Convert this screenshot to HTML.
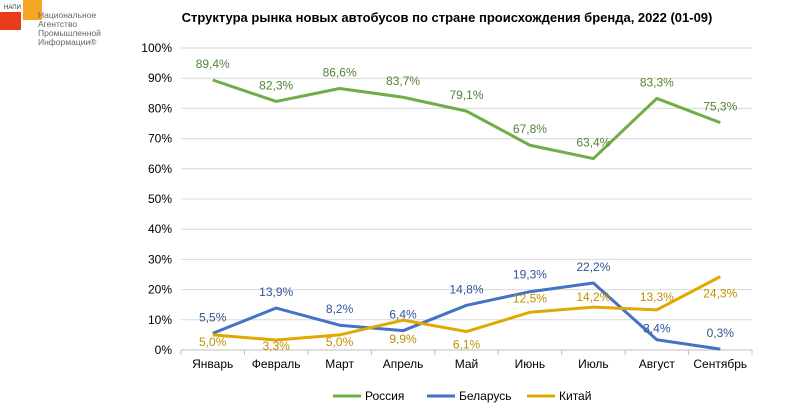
<!DOCTYPE html>
<html><head><meta charset="utf-8"><style>
body{margin:0;background:#fff;}
svg{display:block;font-family:"Liberation Sans",Arial,sans-serif;}
</style></head><body>
<svg width="800" height="408" viewBox="0 0 800 408">
<g>
<rect x="0" y="12" width="21" height="18" fill="#ea3b1c"/>
<rect x="23" y="0" width="19" height="20" fill="#f5a623"/>
<text x="4" y="9" font-size="6" fill="#333">НАПИ</text>
<text x="38" y="18" font-size="8.5" fill="#666">Национальное</text>
<text x="38" y="27" font-size="8.5" fill="#666">Агентство</text>
<text x="38" y="36" font-size="8.5" fill="#666">Промышленной</text>
<text x="38" y="45" font-size="8.5" fill="#666">Информации®</text>
</g>
<text x="447" y="22" font-size="13" font-weight="bold" text-anchor="middle" fill="#000">Структура рынка новых автобусов по стране происхождения бренда, 2022 (01-09)</text>
<g id="grid"></g><g id="series"></g><g id="legend"></g>
</svg>
<script>
const categories=["Январь","Февраль","Март","Апрель","Май","Июнь","Июль","Август","Сентябрь"];
const russia=[89.4,82.3,86.6,83.7,79.1,67.8,63.4,83.3,75.3];
const belarus=[5.5,13.9,8.2,6.4,14.8,19.3,22.2,3.4,0.3];
const china=[5.0,3.3,5.0,9.9,6.1,12.5,14.2,13.3,24.3];
const yTicks=[0,10,20,30,40,50,60,70,80,90,100];
const chinaLabelDy=[7,6,7,19,13,-14,-10,-13,17];
const belarusLabelDy=[-16,-16,-16,-16,-16,-17,-16,-11,-16];
const NS="http://www.w3.org/2000/svg";
const x0=181,x1=752,yb=350,yt=48;
const step=(x1-x0)/categories.length;
const xs=i=>x0+step*(i+0.5);
const ys=v=>yb-(yb-yt)*v/100;
function mk(t,a,p){const e=document.createElementNS(NS,t);for(const k in a)e.setAttribute(k,a[k]);p.appendChild(e);return e;}
const g=document.getElementById('grid');
yTicks.forEach(v=>{
 if(v>0){const l=mk('line',{x1:x0,x2:x1,y1:ys(v),y2:ys(v),stroke:'#d9d9d9','stroke-width':1},g);
 
 }
 const t=mk('text',{x:x0-9,y:ys(v)+4,'font-size':12,'text-anchor':'end',fill:'#000'},g);t.textContent=v+'%';
 
 
});
const ax=mk('line',{x1:x0,x2:x1,y1:yb,y2:yb,stroke:'#bfbfbf'},g);


for(let i=0;i<=categories.length;i++){const tk=mk('line',{x1:x0+step*i,x2:x0+step*i,y1:yb,y2:yb+5,stroke:'#bfbfbf'},g);
 
 }
categories.forEach((c,i)=>{const t=mk('text',{x:xs(i),y:368,'font-size':12,'text-anchor':'middle',fill:'#000'},g);t.textContent=c;
 
 });
const s=document.getElementById('series');
function series(name,vals,color,lcol,dy){
 const p=mk('polyline',{points:vals.map((v,i)=>xs(i)+','+ys(v)).join(' '),fill:'none',stroke:color,'stroke-width':3,'stroke-linejoin':'round'},s);
 
 
 vals.forEach((v,i)=>{const t=mk('text',{x:xs(i),y:ys(v)+dy[i]+4,'font-size':12,'text-anchor':'middle',fill:lcol},s);
 t.textContent=v.toFixed(1).replace('.',',')+'%';
 
 });
}
series('russia',russia,'#70ad47','#548235',russia.map(()=>-16));
series('belarus',belarus,'#4472c4','#2f5597',belarusLabelDy);
series('china',china,'#e0a800','#bf9000',chinaLabelDy);
const lg=document.getElementById('legend');
[['Россия','#70ad47',333],['Беларусь','#4472c4',427],['Китай','#e0a800',527]].forEach(([n,c,x])=>{
 const l=mk('line',{x1:x,x2:x+28,y1:396,y2:396,stroke:c,'stroke-width':3},lg);
 
 
 const t=mk('text',{x:x+32,y:400,'font-size':12,fill:'#000'},lg);t.textContent=n;
 
 
});
</script>
</body></html>
